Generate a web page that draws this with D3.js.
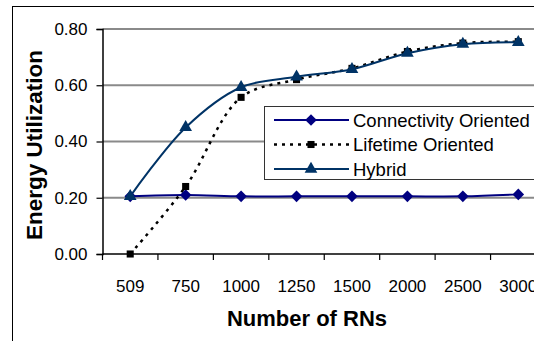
<!DOCTYPE html>
<html>
<head>
<meta charset="utf-8">
<script src="https://cdn.jsdelivr.net/npm/d3@7"></script>
<style>
  html, body { margin: 0; padding: 0; background: #fff; }
  svg { display: block; font-family: "Liberation Sans", Arial, sans-serif; }
</style>
</head>
<body>
<svg id="chart" width="534" height="341"></svg>
<script>
// Number of relay nodes on the x axis
const categories = ["509", "750", "1000", "1250", "1500", "2000", "2500", "3000"];

// Energy utilization per strategy
const connectivityValues = [0.205, 0.21, 0.205, 0.205, 0.205, 0.205, 0.205, 0.212];
const lifetimeValues     = [0.00, 0.24, 0.557, 0.62, 0.66, 0.72, 0.75, 0.755];
const hybridValues       = [0.205, 0.45, 0.593, 0.63, 0.657, 0.714, 0.746, 0.753];

const yTicks = [0, 0.2, 0.4, 0.6, 0.8];

const seriesNames = ["Connectivity Oriented", "Lifetime Oriented", "Hybrid"];

const svg = d3.select("#chart");

// Outer chart frame
svg.append("rect")
  .attr("x", 12.5).attr("y", 6.5)
  .attr("width", 600).attr("height", 400)
  .attr("fill", "none").attr("stroke", "#000").attr("stroke-width", 1);

const plot = { left: 102.5, right: 546, top: 29, bottom: 254 };

const x = d3.scaleBand().domain(categories).range([plot.left, plot.right]).padding(0);
const y = d3.scaleLinear().domain([0, 0.8]).range([plot.bottom, plot.top]);

// Horizontal gridlines
svg.append("g")
  .selectAll("line")
  .data(yTicks.filter(d => d > 0))
  .join("line")
  .attr("x1", plot.left).attr("x2", 534)
  .attr("y1", d => y(d)).attr("y2", d => y(d))
  .attr("stroke", "#8a8a8a").attr("stroke-width", 2);

// Y axis
const yAxis = d3.axisLeft(y).tickValues(yTicks).tickFormat(d3.format(".2f")).tickSize(6).tickPadding(9);
const gy = svg.append("g").attr("transform", `translate(${plot.left},0)`).call(yAxis);
gy.select(".domain").attr("stroke", "#000").attr("stroke-width", 1.5);
gy.selectAll(".tick line").attr("stroke", "#000").attr("stroke-width", 1.2);
gy.selectAll(".tick text").attr("font-size", 17).attr("fill", "#000")
  .attr("font-family", "Liberation Sans, Arial, sans-serif");

// X axis: tick marks sit on the category boundaries
const gx = svg.append("g").attr("transform", `translate(0,${plot.bottom})`);
gx.append("line")
  .attr("x1", plot.left).attr("x2", 534)
  .attr("y1", 0).attr("y2", 0)
  .attr("stroke", "#000").attr("stroke-width", 1.5);
gx.selectAll("line.tk")
  .data(categories)
  .join("line").attr("class", "tk")
  .attr("x1", d => x(d)).attr("x2", d => x(d))
  .attr("y1", 0).attr("y2", 6)
  .attr("stroke", "#000").attr("stroke-width", 1.2);
gx.selectAll("text")
  .data(categories)
  .join("text")
  .attr("x", d => x(d) + x.bandwidth() / 2)
  .attr("y", 38)
  .attr("text-anchor", "middle")
  .attr("font-size", 17)
  .attr("fill", "#000")
  .text(d => d);

// Axis titles
svg.append("text")
  .attr("x", 307).attr("y", 326)
  .attr("text-anchor", "middle")
  .attr("font-size", 22).attr("font-weight", "bold")
  .text("Number of RNs");

svg.append("text")
  .attr("transform", "translate(42,145) rotate(-90)")
  .attr("text-anchor", "middle")
  .attr("font-size", 22.5).attr("font-weight", "bold")
  .text("Energy Utilization");

const cx = (d, i) => x(categories[i]) + x.bandwidth() / 2;
const line = d3.line().x(cx).y(d => y(d)).curve(d3.curveCatmullRom.alpha(0.5));

// Square diamond marker (equal width and height)
const symDiamond = () => "M0,-5.8L5.8,0L0,5.8L-5.8,0Z";
const symSquare = d3.symbol().type(d3.symbolSquare).size(50);
const symTriangle = d3.symbol().type(d3.symbolTriangle).size(70);

const series = [
  { name: seriesNames[0], values: connectivityValues, color: "#000080", width: 2, dash: null, sym: symDiamond },
  { name: seriesNames[1], values: lifetimeValues, color: "#000000", width: 2.5, dash: "3,5", sym: symSquare },
  { name: seriesNames[2], values: hybridValues, color: "#003366", width: 2, dash: null, sym: symTriangle }
];

// Lines, drawn first so markers sit on top
series.forEach(s => {
  svg.append("path")
    .datum(s.values)
    .attr("d", line)
    .attr("fill", "none")
    .attr("stroke", s.color)
    .attr("stroke-width", s.width)
    .attr("stroke-dasharray", s.dash);
});

// Markers
series.forEach(s => {
  svg.append("g").selectAll("path")
    .data(s.values)
    .join("path")
    .attr("d", s.sym)
    .attr("transform", (d, i) => `translate(${cx(d, i)},${y(d)})`)
    .attr("fill", s.color);
});

// Legend
const legend = svg.append("g");
legend.append("rect")
  .attr("x", 264.5).attr("y", 106.5)
  .attr("width", 300).attr("height", 73)
  .attr("fill", "#fff").attr("stroke", "#333").attr("stroke-width", 1);

series.forEach((s, i) => {
  const ly = 120 + i * 24.5;
  legend.append("line")
    .attr("x1", 274).attr("x2", 349)
    .attr("y1", ly).attr("y2", ly)
    .attr("stroke", s.color).attr("stroke-width", s.width)
    .attr("stroke-dasharray", s.dash);
  legend.append("path")
    .attr("d", s.sym)
    .attr("transform", `translate(311,${ly})`)
    .attr("fill", s.color);
  legend.append("text")
    .attr("x", 353).attr("y", ly)
    .attr("dy", "0.36em")
    .attr("font-size", 18.5)
    .attr("fill", "#000")
    .text(s.name);
});
</script>
</body>
</html>
